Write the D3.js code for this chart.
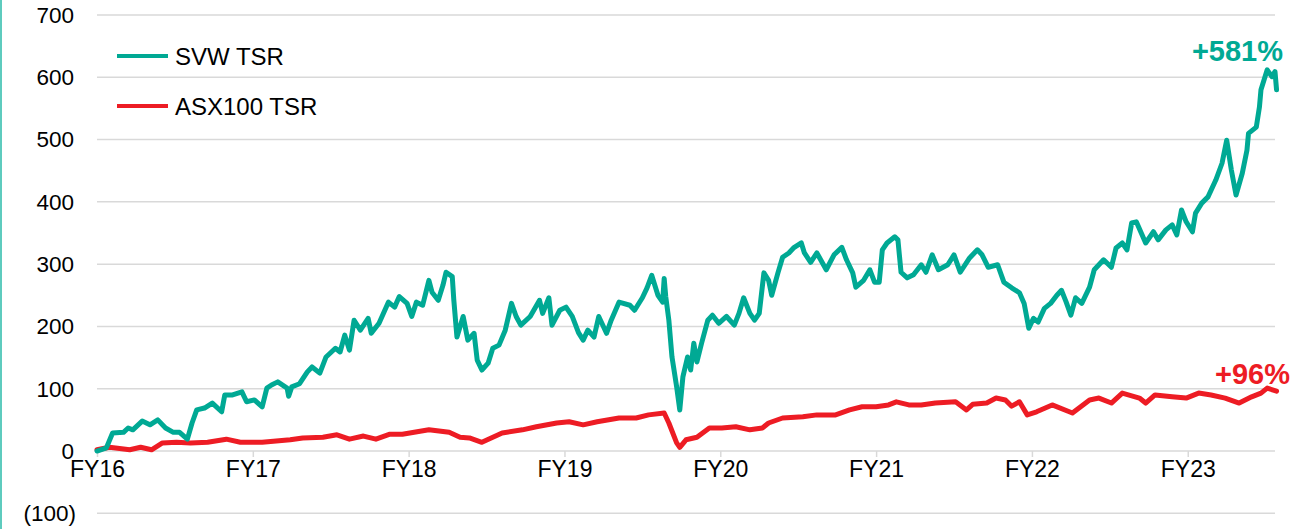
<!DOCTYPE html>
<html>
<head>
<meta charset="utf-8">
<script src="https://cdn.jsdelivr.net/npm/d3@7"></script>
<style>
  html, body { margin: 0; padding: 0; background: #fff; }
  body { width: 1308px; height: 529px; overflow: hidden; position: relative; }
  .side-bar { position: absolute; left: 0; top: 0; width: 2px; height: 529px; background: #5ECBBE; }
  svg text { font-family: "Liberation Sans", Arial, sans-serif; fill: #000; }
</style>
</head>
<body>
<div class="side-bar"></div>
<div id="chart"></div>
<script>
// time in fiscal years (16 = start of FY16), values in % TSR
const svwTime = [16.00, 16.06, 16.10, 16.17, 16.20, 16.23, 16.29, 16.34, 16.39, 16.44, 16.49, 16.53, 16.58, 16.61, 16.64,
    16.69, 16.74, 16.80, 16.82, 16.87, 16.93, 16.96, 17.01, 17.06, 17.09, 17.12, 17.16, 17.22, 17.23, 17.25, 17.30,
    17.35, 17.38, 17.43, 17.47, 17.53, 17.56, 17.59, 17.62, 17.65, 17.69, 17.74, 17.76, 17.81, 17.87, 17.91, 17.94,
    17.99, 18.02, 18.05, 18.09, 18.13, 18.15, 18.19, 18.22, 18.24, 18.28, 18.29, 18.31, 18.35, 18.38, 18.42, 18.44,
    18.47, 18.51, 18.54, 18.58, 18.62, 18.66, 18.69, 18.72, 18.78, 18.84, 18.86, 18.90, 18.92, 18.97, 19.01, 19.05,
    19.09, 19.12, 19.15, 19.19, 19.22, 19.27, 19.30, 19.35, 19.42, 19.45, 19.50, 19.53, 19.56, 19.60, 19.63, 19.64,
    19.65, 19.67, 19.69, 19.72, 19.74, 19.76, 19.79, 19.81, 19.83, 19.85, 19.88, 19.92, 19.95, 19.99, 20.04, 20.09,
    20.12, 20.15, 20.19, 20.22, 20.25, 20.28, 20.31, 20.33, 20.37, 20.40, 20.44, 20.47, 20.52, 20.54, 20.58, 20.62,
    20.68, 20.73, 20.78, 20.81, 20.85, 20.87, 20.92, 20.96, 20.99, 21.02, 21.04, 21.07, 21.12, 21.14, 21.16, 21.20,
    21.24, 21.29, 21.32, 21.36, 21.40, 21.46, 21.50, 21.54, 21.60, 21.65, 21.68, 21.72, 21.78, 21.82, 21.87, 21.92,
    21.95, 21.98, 22.01, 22.04, 22.08, 22.12, 22.16, 22.19, 22.22, 22.25, 22.28, 22.32, 22.37, 22.40, 22.43, 22.46,
    22.51, 22.54, 22.58, 22.61, 22.64, 22.67, 22.73, 22.78, 22.81, 22.86, 22.90, 22.93, 22.96, 22.99, 23.03, 23.05,
    23.09, 23.13, 23.18, 23.22, 23.25, 23.28, 23.31, 23.35, 23.38, 23.39, 23.44, 23.46, 23.47, 23.51, 23.54, 23.56, 23.57];
const svwValues = [0, 5, 29, 30, 37, 34, 48, 42, 50, 37, 30, 30, 19, 45, 66,
    69, 77, 63, 90, 90, 95, 79, 82, 71, 101, 106, 111, 101, 88, 103, 108,
    127, 135, 125, 151, 165, 159, 186, 162, 210, 194, 213, 189, 205, 239, 231, 248,
    237, 216, 239, 234, 274, 255, 242, 266, 287, 280, 242, 183, 216, 178, 189, 146,
    130, 141, 165, 170, 194, 237, 216, 202, 216, 242, 221, 246, 202, 226, 231, 216,
    190, 178, 194, 183, 216, 189, 210, 239, 234, 226, 246, 262, 282, 250, 239, 277,
    248, 210, 151, 103, 66, 119, 151, 130, 173, 143, 173, 210, 218, 205, 216, 202,
    221, 246, 221, 210, 221, 286, 274, 250, 286, 311, 318, 326, 334, 318, 303, 318,
    291, 315, 327, 307, 286, 263, 274, 291, 271, 271, 323, 334, 344, 339, 287, 278,
    283, 299, 287, 315, 291, 299, 315, 287, 310, 323, 315, 295, 299, 271, 262, 254,
    237, 197, 213, 207, 229, 237, 250, 258, 239, 218, 246, 237, 263, 291, 299, 307,
    295, 326, 334, 323, 366, 368, 334, 352, 339, 355, 363, 347, 387, 368, 352, 382,
    398, 408, 435, 462, 499, 451, 411, 446, 483, 510, 520, 552, 580, 612, 601, 609, 580];

const asxTime = [16.00, 16.08, 16.21, 16.28, 16.35, 16.42, 16.51, 16.60, 16.71, 16.83, 16.92, 17.06, 17.24, 17.32, 17.45,
    17.54, 17.62, 17.71, 17.79, 17.88, 17.96, 18.13, 18.26, 18.33, 18.39, 18.47, 18.60, 18.73, 18.82, 18.95, 19.03,
    19.12, 19.21, 19.35, 19.46, 19.54, 19.64, 19.67, 19.72, 19.74, 19.78, 19.85, 19.93, 20.01, 20.10, 20.19, 20.27,
    20.31, 20.40, 20.53, 20.62, 20.74, 20.83, 20.91, 21.00, 21.08, 21.13, 21.21, 21.29, 21.38, 21.51, 21.58, 21.62,
    21.71, 21.77, 21.83, 21.87, 21.92, 21.97, 22.03, 22.13, 22.26, 22.37, 22.43, 22.51, 22.58, 22.69, 22.73, 22.79,
    22.90, 22.99, 23.07, 23.15, 23.24, 23.33, 23.41, 23.47, 23.51, 23.57];
const asxValues = [2, 6, 2, 6, 2, 13, 14, 13, 14, 19, 14, 14, 18, 21, 22,
    26, 19, 24, 19, 27, 27, 34, 30, 22, 21, 14, 29, 34, 39, 45, 47,
    42, 47, 53, 53, 58, 61, 45, 13, 6, 18, 22, 37, 37, 39, 34, 37,
    45, 53, 55, 58, 58, 66, 71, 71, 74, 79, 74, 74, 77, 79, 66, 75,
    77, 85, 82, 72, 79, 58, 63, 74, 61, 82, 85, 77, 93, 85, 77, 90,
    87, 85, 93, 90, 85, 77, 87, 93, 101, 96];

const yTicks = [-100, 0, 100, 200, 300, 400, 500, 600, 700];
const fyTicks = [16, 17, 18, 19, 20, 21, 22, 23];
const seriesNames = ['SVW TSR', 'ASX100 TSR'];
const endLabels = ['+581%', '+96%'];

const teal = '#00A994', red = '#ED1C24';

const width = 1308, height = 529;
const svg = d3.select('#chart').append('svg')
    .attr('width', width)
    .attr('height', height);

const x = d3.scaleLinear().domain([16, 23.56]).range([97, 1275]);
const y = d3.scaleLinear().domain([-100, 700]).range([513.3, 15]);

// gridlines
svg.append('g')
    .selectAll('line')
    .data(yTicks)
    .enter()
    .append('line')
    .attr('x1', 97)
    .attr('x2', 1275)
    .attr('y1', d => y(d))
    .attr('y2', d => y(d))
    .attr('stroke', '#d9d9d9')
    .attr('stroke-width', 1.5);

// y labels
svg.append('g')
    .selectAll('text')
    .data(yTicks)
    .enter()
    .append('text')
    .attr('x', d => d < 0 ? 76 : 74)
    .attr('y', d => y(d))
    .attr('dy', '0.35em')
    .attr('text-anchor', 'end')
    .style('font-size', '22.5px')
    .text(d => d < 0 ? `(${-d})` : d);

// x axis ticks at the zero line
const xAxis = d3.axisBottom(x)
    .tickValues(fyTicks)
    .tickSize(6)
    .tickPadding(4)
    .tickFormat(d => 'FY' + d);

const gx = svg.append('g')
    .attr('transform', `translate(0,${y(0)})`)
    .call(xAxis);
gx.select('.domain').remove();
gx.selectAll('.tick line').attr('stroke', '#d9d9d9').attr('stroke-width', 1.5);
gx.selectAll('.tick text')
    .style('font-size', '23px')
    .style('font-family', '"Liberation Sans", Arial, sans-serif')
    .attr('fill', '#000');

const line = d3.line()
    .x(d => x(d[0]))
    .y(d => y(d[1]));

const asxData = asxTime.map((t, i) => [t, asxValues[i]]);
const svwData = svwTime.map((t, i) => [t, svwValues[i]]);

svg.append('path')
    .datum(asxData)
    .attr('d', line)
    .attr('fill', 'none')
    .attr('stroke', red)
    .attr('stroke-width', 5)
    .attr('stroke-linejoin', 'round')
    .attr('stroke-linecap', 'round');

svg.append('path')
    .datum(svwData)
    .attr('d', line)
    .attr('fill', 'none')
    .attr('stroke', teal)
    .attr('stroke-width', 5)
    .attr('stroke-linejoin', 'round')
    .attr('stroke-linecap', 'round');

// legend
const legend = svg.append('g');
[teal, red].forEach((c, i) => {
    const ly = 56 + i * 50;
    legend.append('line')
        .attr('x1', 117).attr('x2', 168)
        .attr('y1', ly).attr('y2', ly)
        .attr('stroke', c)
        .attr('stroke-width', 4);
    legend.append('text')
        .attr('x', 175)
        .attr('y', ly)
        .attr('dy', '0.36em')
        .style('font-size', '24px')
        .text(seriesNames[i]);
});

// end labels
svg.append('text')
    .attr('x', 1283).attr('y', 61)
    .attr('text-anchor', 'end')
    .style('font-size', '29px')
    .style('font-weight', 'bold')
    .style('fill', teal)
    .text(endLabels[0]);

svg.append('text')
    .attr('x', 1290).attr('y', 384)
    .attr('text-anchor', 'end')
    .style('font-size', '29px')
    .style('font-weight', 'bold')
    .style('fill', red)
    .text(endLabels[1]);
</script>
</body>
</html>
